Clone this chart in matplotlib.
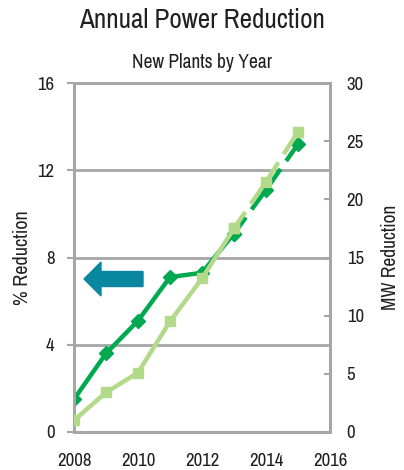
import matplotlib
matplotlib.use("Agg")
import matplotlib.pyplot as plt
from matplotlib.patches import FancyArrow

years = [2008, 2009, 2010, 2011, 2012, 2013, 2014, 2015]
pct_reduction = [1.5, 3.6, 5.1, 7.1, 7.3, 9.1, 11.1, 13.2]
mw_reduction = [1.0, 3.4, 5.1, 9.5, 13.2, 17.5, 21.5, 25.8]
split = 5  # index of 2013: later years are projected (dashed)

x_ticks = [2008, 2010, 2012, 2014, 2016]
left_ticks = [0, 4, 8, 12, 16]
right_ticks = [0, 5, 10, 15, 20, 25, 30]

DARK = "#00a94f"
LIGHT = "#b3d98b"
GRID = "#a6a6a6"
TEXT = "#231f20"
ARROW = "#0a87a0"

plt.rcParams["font.family"] = ["Archivo Narrow", "Liberation Sans", "DejaVu Sans"]

fig = plt.figure(figsize=(4.04, 4.70), dpi=100)
ax = fig.add_axes([74 / 404, 1 - 432 / 470, 256 / 404, 349 / 470])
ax2 = ax.twinx()

ax.set_xlim(2008, 2016)
ax.set_ylim(0, 16)
ax2.set_ylim(0, 30)

for a in (ax, ax2):
    for s in a.spines.values():
        s.set_color(GRID)
        s.set_linewidth(2)

ax.set_yticks(left_ticks)
ax2.set_yticks(right_ticks)
ax.set_xticks(x_ticks)
ax.set_xticks([2008, 2016], minor=True)
ax.tick_params(axis="x", which="major", length=0, pad=15, labelsize=13.5, colors=TEXT)
ax.tick_params(axis="x", which="minor", length=6, width=2, color=GRID)
ax.tick_params(axis="y", length=5, width=1.5, color=GRID, labelsize=13.5, labelcolor=TEXT, pad=9)
ax2.tick_params(axis="y", length=4, width=1.5, color=GRID, labelsize=13.5, labelcolor=TEXT, pad=12,
                direction="in")
ax.yaxis.grid(True, color=GRID, linewidth=2)
ax.set_axisbelow(True)

# dark green: % reduction, left axis
ax.plot(years[:split + 1], pct_reduction[:split + 1], color=DARK, lw=3.2,
        marker="D", ms=7.5, zorder=3)
ax.plot(years[split:], pct_reduction[split:], color=DARK, lw=3.2, ls=(0, (4.5, 2.2)),
        marker="D", ms=7.5, zorder=3)

# light green: MW reduction, right axis
ax2.plot(years[:split + 1], mw_reduction[:split + 1], color=LIGHT, lw=3.2,
         marker="s", ms=7.5, zorder=4)
ax2.plot(years[split:], mw_reduction[split:], color=LIGHT, lw=3.2, ls=(0, (4.5, 2.2)),
         marker="s", ms=7.5, zorder=4)

ax.set_ylabel("% Reduction", fontsize=14.5, color=TEXT, labelpad=4)
ax2.set_ylabel("MW Reduction", fontsize=14, color=TEXT, labelpad=12)

# arrow pointing to the left axis
arrow = FancyArrow(143, 279, -42, 0, width=15, head_width=34, head_length=17,
                   length_includes_head=False, color=ARROW, transform=None)
arrow_pts = arrow.get_xy().copy()
arrow_pts[:, 1] = 470 - arrow_pts[:, 1]
arrow.set_xy(arrow_pts)
fig.patches.append(arrow)

fig.text(0.5, 1 - 20 / 470, "Annual Power Reduction", ha="center", va="center",
         fontsize=19.5, color=TEXT, fontweight="medium")
fig.text(0.5, 1 - 62 / 470, "New Plants by Year", ha="center", va="center",
         fontsize=14, color=TEXT)

fig.savefig("out.png", dpi=100)
